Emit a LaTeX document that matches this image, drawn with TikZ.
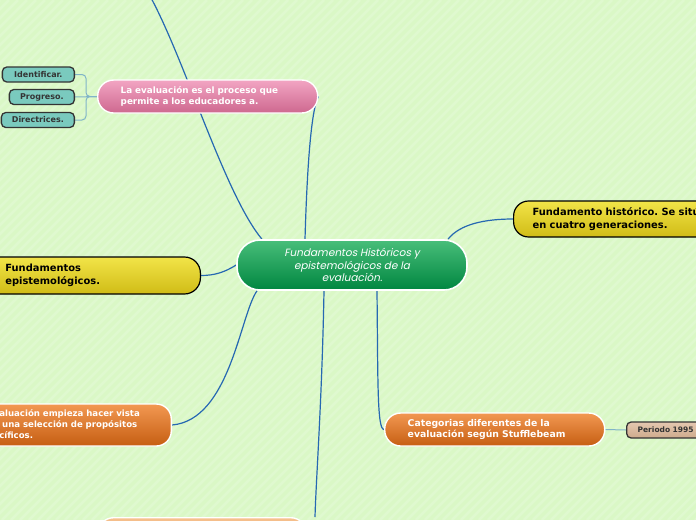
\documentclass[tikz,border=0pt]{standalone}
\usepackage{fontspec}
\setmainfont{DejaVu Sans}
\newfontfamily\hubfont[FakeSlant=0.2]{Poppins}
\usetikzlibrary{positioning,backgrounds,calc}
\frenchspacing

\definecolor{paper}{RGB}{218,248,198}
\definecolor{linkblue}{RGB}{38,104,178}
\definecolor{leaflink}{RGB}{128,180,200}
\definecolor{inkgray}{RGB}{52,52,52}

\begin{document}
\begin{tikzpicture}[x=1pt,y=-1pt,
  hub/.style={draw=white, line width=1.6pt, rounded corners=23pt, align=center,
    top color={rgb,255:red,72;green,190;blue,122}, bottom color={rgb,255:red,0;green,134;blue,64},
    text=white, minimum width=230pt, minimum height=50pt, inner sep=0pt,
    font=\hubfont\fontsize{10.5}{12.3}\selectfont},
  topic/.style={line width=1.4pt, align=left, inner xsep=23pt, inner ysep=0pt,
    font=\fontsize{8.8}{11}\selectfont\bfseries},
  pinkfill/.style={draw=white, text=white,
    top color={rgb,255:red,242;green,165;blue,195}, bottom color={rgb,255:red,206;green,104;blue,143}},
  yellowfill/.style={draw=black, line width=1.2pt, text=black,
    top color={rgb,255:red,242;green,228;blue,72}, bottom color={rgb,255:red,208;green,188;blue,22},
    font=\fontsize{9.9}{12.5}\selectfont\bfseries},
  orangefill/.style={draw=white, text=white,
    top color={rgb,255:red,242;green,152;blue,82}, bottom color={rgb,255:red,198;green,94;blue,18},
    font=\fontsize{9.3}{11.5}\selectfont\bfseries},
  peachfill/.style={draw=white,
    top color={rgb,255:red,246;green,192;blue,142}, bottom color={rgb,255:red,236;green,160;blue,100}},
  leaf/.style={draw=inkgray, line width=1.3pt, rounded corners=4.5pt, text=inkgray,
    inner sep=0pt, minimum height=15pt, font=\fontsize{8}{9}\selectfont\bfseries},
  link/.style={draw=linkblue, line width=1.2pt},
  sublink/.style={draw=leaflink, line width=1pt}
]
\useasboundingbox (0,0) rectangle (696,520);

% central topic
\node[hub] (hub) at (352,265) {Fundamentos Históricos y\\epistemológicos de la\\evaluación.};

% main topics
\node[topic, pinkfill, rounded corners=16pt, minimum height=33pt, text width=174pt, anchor=west]
  (proc) at (97,96.5) {La evaluación es el proceso que\\permite a los educadores a.};
\node[topic, yellowfill, rounded corners=15pt, minimum height=36pt, inner xsep=19pt, text width=190pt, anchor=west]
  (hist) at (513,219) {Fundamento histórico. Se sitúa\\en cuatro generaciones.};
\node[topic, yellowfill, rounded corners=16pt, minimum height=37pt, inner xsep=21pt, text width=174pt, anchor=east]
  (epis) at (201,275.5) {Fundamentos\\epistemológicos.};
\node[topic, orangefill, rounded corners=15pt, minimum height=42pt, text width=149pt, anchor=east,
  font=\fontsize{8.6}{11}\selectfont\bfseries]
  (vista) at (172,425) {\leavevmode\llap{La ev}aluación empieza hacer vista\\\leavevmode\llap{de} una selección de propósitos\\\leavevmode\llap{espe}cíficos.};
\node[topic, orangefill, rounded corners=16pt, minimum height=33pt, text width=174pt, anchor=west]
  (categ) at (384,429.5) {Categorias diferentes de la\\evaluación según Stufflebeam};
\node[topic, peachfill, rounded corners=16pt, minimum height=34pt, minimum width=209pt, anchor=north west]
  (low) at (97,517) {};
\coordinate (up) at (150,-4);

% subtopics
\node[leaf, fill={rgb,255:red,122;green,202;blue,190}, minimum width=72pt, anchor=east] (idf) at (75,74.5) {Identificar.};
\node[leaf, fill={rgb,255:red,122;green,202;blue,190}, minimum width=65pt, anchor=east] (prog) at (75,97) {Progreso.};
\node[leaf, fill={rgb,255:red,122;green,202;blue,190}, minimum width=73pt, anchor=east] (dirc) at (75,120) {Directrices.};
\node[leaf, top color={rgb,255:red,228;green,200;blue,176}, bottom color={rgb,255:red,206;green,170;blue,140},
  minimum width=80pt, minimum height=16pt, align=left, text width=60pt, inner xsep=11pt, anchor=west,
  font=\fontsize{7.5}{9}\selectfont\bfseries]
  (per) at (626,430) {Periodo 1995};

\begin{pgfonlayer}{background}
  \clip (0,0) rectangle (696,520);
  \fill[paper] (0,0) rectangle (696,520);
  \foreach \k in {0,9,...,1224}
    \draw[white, opacity=0.16, line width=2.5pt] ({\k-520},520) -- (\k,0);
  % connectors from the central topic
  \draw[link] ($(hub.north)+(-90,0)$) .. controls (225,195) and (185,60) .. (up);
  \draw[link] ($(hub.north)+(-47,0)$) .. controls (307,170) and (311,110) .. (proc.east);
  \draw[link] ($(hub.north)+(96,0)$) .. controls (460,224) and (485,219) .. (hist.west);
  \draw[link] (hub.west) .. controls (225,272) and (215,275.5) .. (epis.east);
  \draw[link] ($(hub.south)+(-95,0)$) .. controls (240,315) and (230,420) .. (vista.east);
  \draw[link] ($(hub.south)+(-28,0)$) .. controls (322,400) and (316,480) .. ($(low.north west)+(218,0)$);
  \draw[link] ($(hub.south)+(25,0)$) .. controls (378,380) and (377,429.5) .. (categ.west);
  % connectors to subtopics
  \draw[sublink, rounded corners=4pt] (proc.west) -- ++(-11,0) |- (idf.east);
  \draw[sublink] (proc.west) -- (prog.east);
  \draw[sublink, rounded corners=4pt] (proc.west) -- ++(-11,0) |- (dirc.east);
  \draw[sublink] (categ.east) -- (per.west);
\end{pgfonlayer}
\end{tikzpicture}
\end{document}
